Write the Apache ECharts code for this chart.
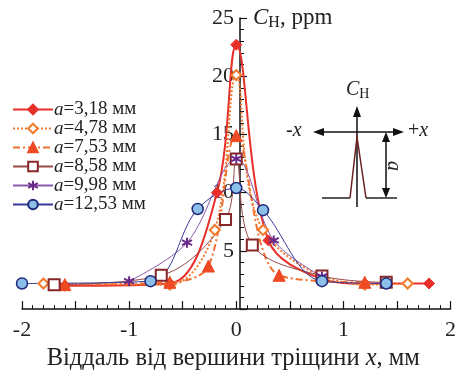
<!DOCTYPE html>
<html>
<head>
<meta charset="utf-8">
<script src="https://cdn.jsdelivr.net/npm/echarts@6/dist/echarts.min.js"></script>
<style>html,body{margin:0;padding:0;background:#fff;}#c{width:459px;height:376px;}</style>
</head>
<body>
<div id="c"></div>
<script>
// ---- data ----
const seriesNames = ['a=3,18 мм', 'a=4,78 мм', 'a=7,53 мм', 'a=8,58 мм', 'a=9,98 мм', 'a=12,53 мм'];
const x1 = [-1.6, -0.62, -0.18, 0, 0.3, 0.8, 1.2, 1.8];
const y1 = [2.0, 2.2, 10.0, 22.7, 5.9, 2.6, 2.2, 2.2];
const x2 = [-1.8, -0.62, -0.2, 0, 0.25, 1.2, 1.6];
const y2 = [2.2, 2.1, 6.8, 20.1, 6.8, 2.1, 2.2];
const x3 = [-1.6, -0.62, -0.26, 0, 0.4, 1.2];
const y3 = [2.1, 2.3, 3.7, 14.9, 2.9, 2.3];
const x4 = [-1.7, -0.7, -0.1, 0, 0.15, 0.8, 1.4];
const y4 = [2.1, 2.9, 7.7, 12.9, 5.5, 2.85, 2.3];
const x5 = [-1.0, -0.46, 0, 0.35, 0.8];
const y5 = [2.4, 5.7, 12.9, 5.9, 2.8];
const x6 = [-2, -0.8, -0.36, 0, 0.25, 0.8, 1.4];
const y6 = [2.2, 2.4, 8.6, 10.4, 8.5, 2.4, 2.2];
const xTicks = [-2, -1, 0, 1, 2];
const yTicks = [5, 10, 15, 20, 25];

const pair = (xs, ys) => xs.map((v, i) => [v, ys[i]]);
const serif = 'Liberation Serif';
const star = 'path://M0,-5L0,5M-4.33,-2.5L4.33,2.5M-4.33,2.5L4.33,-2.5';

const W = 459, GL = 22, GR = 1;
const zeroOffset = -((W - GL - GR) / 2);

const chart = echarts.init(document.getElementById('c'));
const option = {
  animation: false,
  backgroundColor: '#fff',
  grid: { left: GL, right: GR, top: 18, bottom: 66 },
  xAxis: {
    type: 'value', min: -2, max: 2, interval: 0.5,
    name: '{n|Віддаль від вершини тріщини }{i|x}{n|, мм}',
    nameLocation: 'middle', nameGap: 35,
    nameTextStyle: {
      padding: [0, 6, 0, 0],
      rich: {
        n: { fontFamily: serif, fontSize: 24.5, color: '#222' },
        i: { fontFamily: serif, fontSize: 24.5, color: '#222', fontStyle: 'italic' }
      }
    },
    axisLine: { onZero: false, lineStyle: { color: '#111', width: 1.5 } },
    axisTick: { inside: true, length: 8, lineStyle: { color: '#111', width: 1.2 } },
    minorTick: { show: true, splitNumber: 5, length: 4, lineStyle: { color: '#111', width: 1 } },
    splitLine: { show: false },
    axisLabel: {
      margin: 10, fontFamily: serif, fontSize: 22, color: '#222',
      formatter: v => xTicks.includes(v) ? String(v) : ''
    }
  },
  yAxis: {
    type: 'value', min: 0, max: 25, interval: 5, offset: zeroOffset,
    axisLine: { onZero: false, lineStyle: { color: '#111', width: 1.5 } },
    axisTick: { inside: true, length: 7, lineStyle: { color: '#111', width: 1.2 } },
    minorTick: { show: true, splitNumber: 5, length: 4, lineStyle: { color: '#111', width: 1 } },
    splitLine: { show: false },
    axisLabel: {
      margin: 6, fontFamily: serif, fontSize: 22, color: '#222',
      formatter: v => yTicks.includes(v) ? String(v) : ''
    }
  },
  legend: {
    orient: 'vertical', left: 7, top: 95, itemGap: 0,
    itemWidth: 40, itemHeight: 12,
    textStyle: { fontFamily: serif, fontSize: 19, color: '#222', padding: [0, 0, 0, -4],
      rich: {
        i: { fontFamily: serif, fontSize: 19, color: '#222', fontStyle: 'italic' },
        n: { fontFamily: serif, fontSize: 19, color: '#222' }
      }
    },
    formatter: name => '{i|a}{n|' + name.slice(1) + '}',
    data: seriesNames
  },
  series: [
    { name: seriesNames[0], type: 'line', smooth: 0.35, data: pair(x1, y1),
      symbol: 'diamond', symbolSize: 11,
      itemStyle: { color: '#e8302a', borderColor: '#e8302a', borderWidth: 1 },
      lineStyle: { color: '#e8302a', width: 2 } },
    { name: seriesNames[1], type: 'line', smooth: 0.35, data: pair(x2, y2),
      symbol: 'diamond', symbolSize: 10,
      itemStyle: { color: '#fff', borderColor: '#f27a2c', borderWidth: 2 },
      lineStyle: { color: '#f27a2c', width: 2, type: 'dotted' } },
    { name: seriesNames[2], type: 'line', smooth: 0.35, data: pair(x3, y3),
      symbol: 'triangle', symbolSize: 12,
      itemStyle: { color: '#ee4a24', borderColor: '#ee4a24', borderWidth: 1 },
      lineStyle: { color: '#f27030', width: 2, type: [7, 3, 2, 3] } },
    { name: seriesNames[3], type: 'line', smooth: 0.35, data: pair(x4, y4),
      symbol: 'rect', symbolSize: 11,
      itemStyle: { color: '#fff', borderColor: '#862626', borderWidth: 2 },
      lineStyle: { color: '#9a4848', width: 1 } },
    { name: seriesNames[4], type: 'line', smooth: 0.35, data: pair(x5, y5),
      symbol: star, symbolSize: 10,
      itemStyle: { color: '#6a2a8a', borderColor: '#6a2a8a', borderWidth: 2 },
      lineStyle: { color: '#8a5aaa', width: 1 } },
    { name: seriesNames[5], type: 'line', smooth: 0.35, data: pair(x6, y6),
      symbol: 'circle', symbolSize: 11,
      itemStyle: { color: '#8cc0ea', borderColor: '#1f2a7a', borderWidth: 1.5 },
      lineStyle: { color: '#3a3a9a', width: 1 } }
  ],
  graphic: [
    { type: 'text', left: 253, top: 6, style: {
      text: '{c|C}{s|H}{t|, ppm}',
      rich: {
        c: { fontFamily: serif, fontSize: 23, fontStyle: 'italic', fill: '#222' },
        s: { fontFamily: serif, fontSize: 16, fill: '#222', verticalAlign: 'bottom', padding: [10, 0, 0, 0] },
        t: { fontFamily: serif, fontSize: 23, fill: '#222' }
      } } },
    // inset diagram
    { type: 'line', shape: { x1: 357, y1: 207, x2: 357, y2: 114 }, style: { stroke: '#111', lineWidth: 1.5 } },
    { type: 'polygon', shape: { points: [[357, 106], [353, 117], [361, 117]] }, style: { fill: '#111' } },
    { type: 'line', shape: { x1: 320, y1: 132, x2: 398, y2: 132 }, style: { stroke: '#111', lineWidth: 1.5 } },
    { type: 'polygon', shape: { points: [[313, 132], [324, 128], [324, 136]] }, style: { fill: '#111' } },
    { type: 'polygon', shape: { points: [[404, 132], [393, 128], [393, 136]] }, style: { fill: '#111' } },
    { type: 'polyline', shape: { points: [[322, 198], [350, 198]] }, style: { stroke: '#222', lineWidth: 1.5 } },
    { type: 'polyline', shape: { points: [[350, 198], [357, 137], [366, 198]] }, style: { stroke: '#6b2222', lineWidth: 1.5, fill: null } },
    { type: 'polyline', shape: { points: [[366, 198], [397, 198]] }, style: { stroke: '#222', lineWidth: 1.5 } },
    { type: 'line', shape: { x1: 386, y1: 140, x2: 386, y2: 190 }, style: { stroke: '#111', lineWidth: 1.5 } },
    { type: 'polygon', shape: { points: [[386, 132], [382, 142], [390, 142]] }, style: { fill: '#111' } },
    { type: 'polygon', shape: { points: [[386, 198], [382, 188], [390, 188]] }, style: { fill: '#111' } },
    { type: 'text', left: 346, top: 80, style: {
      text: '{c|C}{s|H}',
      rich: {
        c: { fontFamily: serif, fontSize: 20, fontStyle: 'italic', fill: '#222' },
        s: { fontFamily: serif, fontSize: 14, fill: '#222', verticalAlign: 'bottom', padding: [9, 0, 0, 0] }
      } } },
    { type: 'text', left: 286, top: 121, style: {
      text: '{n|-}{i|x}',
      rich: {
        n: { fontFamily: serif, fontSize: 20, fill: '#222' },
        i: { fontFamily: serif, fontSize: 20, fontStyle: 'italic', fill: '#222' }
      } } },
    { type: 'text', left: 408, top: 121, style: {
      text: '{n|+}{i|x}',
      rich: {
        n: { fontFamily: serif, fontSize: 20, fill: '#222' },
        i: { fontFamily: serif, fontSize: 20, fontStyle: 'italic', fill: '#222' }
      } } },
    { type: 'text', x: 393, y: 166, rotation: -Math.PI / 2, style: {
      text: 'a', fontFamily: serif, fontSize: 20, fontStyle: 'italic', fill: '#222',
      align: 'center', verticalAlign: 'middle' } }
  ]
};
chart.setOption(option);
</script>
</body>
</html>
